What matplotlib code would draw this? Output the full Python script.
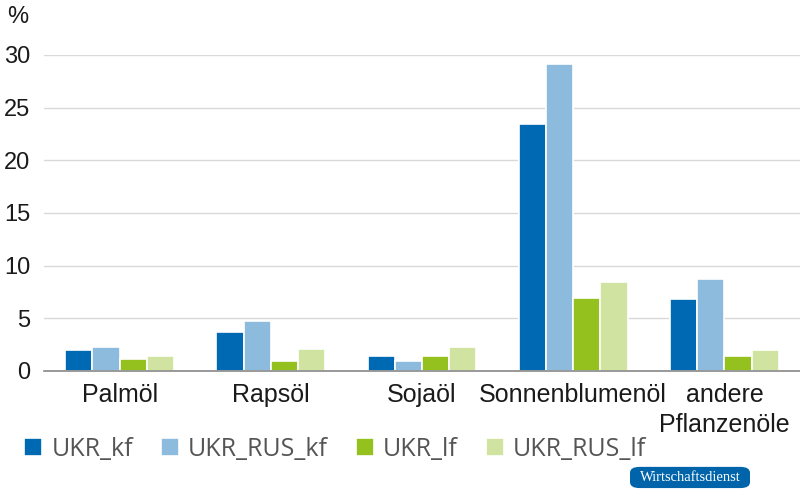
import numpy as np
import matplotlib.pyplot as plt
from matplotlib.patches import FancyBboxPatch

categories = ['Palmöl', 'Rapsöl', 'Sojaöl', 'Sonnenblumenöl', 'andere\nPflanzenöle']
series = ['UKR_kf', 'UKR_RUS_kf', 'UKR_lf', 'UKR_RUS_lf']
ukr_kf = [2.0, 3.7, 1.4, 23.45, 6.8]
ukr_rus_kf = [2.3, 4.75, 0.95, 29.1, 8.7]
ukr_lf = [1.15, 0.95, 1.4, 6.95, 1.45]
ukr_rus_lf = [1.45, 2.1, 2.3, 8.4, 2.0]
colors = ['#0069B4', '#8DBBDE', '#95C11F', '#D0E3A0']

plt.rcParams['font.family'] = 'Liberation Sans'

fig = plt.figure(figsize=(8, 4.93), dpi=100)
ax = fig.add_axes([0.055, 0.2475, 0.945, 0.641])

X = np.arange(len(categories))
w = 0.18
for i, (vals, c, lab) in enumerate(zip([ukr_kf, ukr_rus_kf, ukr_lf, ukr_rus_lf], colors, series)):
    ax.bar(X + (i - 1.5) * w, vals, width=w, color=c, edgecolor='white', linewidth=1.2, label=lab, zorder=3)

ax.set_xlim(-0.5, len(categories) - 0.5)
ax.set_ylim(0, 30)
ax.set_yticks([0, 5, 10, 15, 20, 25, 30])
ax.yaxis.grid(True, color='#d9d9d9', linewidth=1)
ax.set_axisbelow(True)
for s in ['top', 'right', 'left']:
    ax.spines[s].set_visible(False)
ax.spines['bottom'].set_color('#888888')
ax.spines['bottom'].set_linewidth(1.2)
ax.spines['bottom'].set_zorder(4)
ax.tick_params(axis='both', length=0, colors='#1a1a1a')
ax.tick_params(axis='y', labelsize=17, pad=10)
ax.tick_params(axis='x', labelsize=18, pad=9)
ax.set_xticks(X)
ax.set_xticklabels(categories, linespacing=1.3, va='top')

fig.text(0.022, 0.965, '%', fontsize=17, color='#1a1a1a', ha='center', va='center')

leg = fig.legend(loc='center left', bbox_to_anchor=(0.03, 0.089), ncol=4, frameon=False,
                 handlelength=0.72, handleheight=0.72, handletextpad=0.38, columnspacing=1.1,
                 borderaxespad=0, borderpad=0, prop={'family': 'Open Sans', 'size': 18})
for t in leg.get_texts():
    t.set_color('#555555')

badge = FancyBboxPatch((0.7875, 0.010), 0.15, 0.043, boxstyle='round,pad=0,rounding_size=0.012',
                       transform=fig.transFigure, facecolor='#0064AA', edgecolor='none')
fig.patches.append(badge)
fig.text(0.8625, 0.0314, 'Wirtschaftsdienst', fontsize=10.5, family='Liberation Serif', color='white',
         ha='center', va='center')

plt.savefig('out.png')
